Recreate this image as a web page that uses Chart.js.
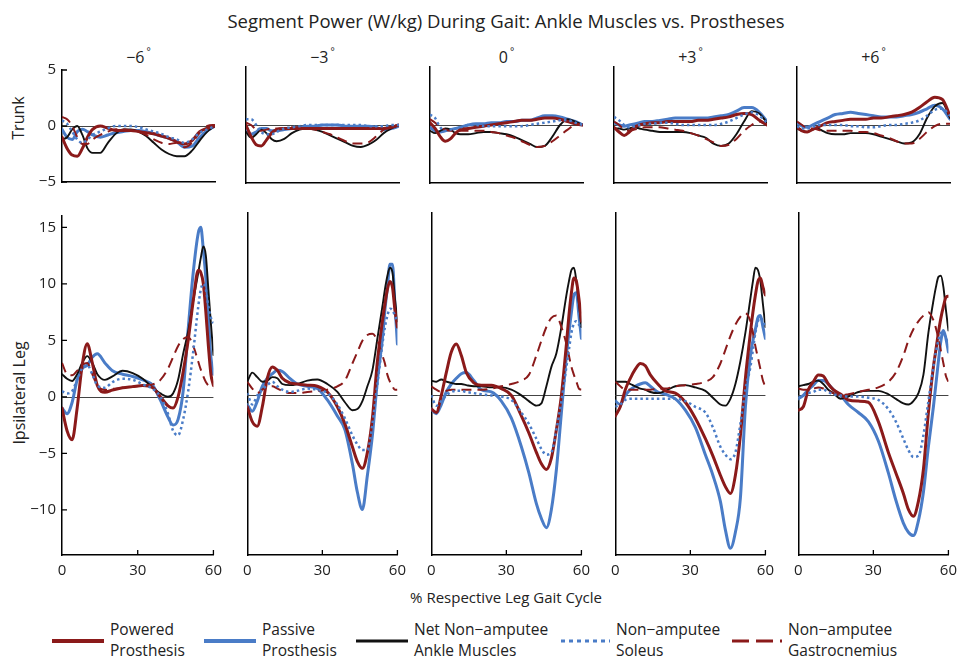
<!DOCTYPE html>
<html lang="en">
<head>
  <meta charset="UTF-8" />
  <title>Segment Power During Gait</title>
  <script src="https://cdn.jsdelivr.net/npm/chart.js"></script>
  <style>
    html, body { margin: 0; padding: 0; background: #fff; }
    body { width: 957px; height: 658px; position: relative; overflow: hidden;
           font-family: "Open Sans", sans-serif; color: #222; }
    .abs { position: absolute; white-space: nowrap; }
    .title { left: 0; width: 1012px; top: 10px; text-align: center; font-size: 18.5px; line-height: 22px; }
    .head { font-size: 16px; line-height: 20px; top: 41px; transform: translateX(-50%); }
    .head sup { font-size: 10px; vertical-align: 8px; margin-left: 2px; }
    .ylab { font-size: 16px; line-height: 20px; transform: translate(-50%, -50%) rotate(-90deg); }
    .xlab { left: 0; width: 1012px; top: 587px; text-align: center; font-size: 15px; line-height: 20px; }
    .leg { font-size: 15.5px; line-height: 21px; top: 619px; }
    canvas { position: absolute; }
  </style>
</head>
<body>
  <div class="abs title">Segment Power (W/kg) During Gait: Ankle Muscles vs. Prostheses</div>
  <div class="abs ylab" style="left:18px; top:118px">Trunk</div>
  <div class="abs ylab" style="left:19px; top:393px">Ipsilateral Leg</div>
  <div class="abs xlab">% Respective Leg Gait Cycle</div>
  <div id="legend"></div>

  <script>
    // column headings (incline, degrees)
    const angles = ['\u22126', '\u22123', '0', '+3', '+6'];

    // % gait cycle sample points
    const trunkPct = [0, 2, 4, 6, 8, 10, 12, 15, 18, 21, 24, 27, 30, 33, 36, 39, 42, 45, 48, 51, 54, 57, 60];
    const legPct = [0, 2, 4, 6, 8, 10, 12, 14, 17, 20, 24, 28, 32, 36, 39, 42, 44, 46, 48, 50, 52, 54, 55, 56, 57, 58, 59, 60];

    const trunkTicks = [-5, 0, 5];
    const legTicks = [-10, -5, 0, 5, 10, 15];
    const xTicks = [0, 30, 60];

    // trunk segment power, one row per incline
    const trunkPowered = [
      [-1.0, -2.0, -2.6, -2.7, -2.0, -1.0, -0.3, 0.0, -0.2, -0.4, -0.4, -0.4, -0.5, -0.6, -0.7, -0.9, -1.1, -1.4, -1.6, -1.3, -0.5, -0.2, 0.0],
      [0.0, -1.0, -1.7, -1.8, -1.3, -0.7, -0.4, -0.3, -0.3, -0.3, -0.3, -0.3, -0.3, -0.3, -0.3, -0.3, -0.3, -0.3, -0.3, -0.3, -0.3, -0.2, 0.0],
      [0.2, -0.3, -1.0, -1.4, -1.2, -0.7, -0.4, -0.3, -0.2, -0.1, 0.0, 0.1, 0.2, 0.3, 0.4, 0.4, 0.5, 0.6, 0.6, 0.5, 0.3, 0.1, 0.0],
      [-0.2, -0.6, -0.9, -0.6, -0.2, 0.0, 0.1, 0.2, 0.2, 0.3, 0.3, 0.3, 0.3, 0.4, 0.4, 0.5, 0.6, 0.7, 0.9, 1.0, 0.9, 0.4, 0.0],
      [-0.2, -0.5, -0.6, -0.4, -0.2, 0.0, 0.2, 0.3, 0.4, 0.5, 0.5, 0.5, 0.6, 0.6, 0.7, 0.8, 0.9, 1.1, 1.5, 2.0, 2.4, 2.2, 0.8]
    ];
    const trunkPassive = [
      [-0.3, -1.0, -1.2, -0.5, -0.3, -0.5, -0.8, -1.0, -0.8, -0.6, -0.5, -0.4, -0.4, -0.5, -0.7, -0.9, -1.1, -1.4, -1.9, -1.8, -1.0, -0.4, 0.0],
      [-0.3, -0.8, -0.6, -0.3, -0.3, -0.5, -0.5, -0.4, -0.3, -0.2, -0.1, -0.1, 0.0, 0.0, 0.0, -0.1, -0.1, -0.1, -0.1, -0.2, -0.4, -0.3, -0.1],
      [-0.2, -0.5, -0.6, -0.5, -0.4, -0.3, -0.2, 0.0, 0.1, 0.1, 0.2, 0.2, 0.3, 0.3, 0.4, 0.4, 0.6, 0.8, 0.8, 0.7, 0.5, 0.3, 0.0],
      [0.2, 0.0, -0.1, 0.0, 0.1, 0.2, 0.3, 0.3, 0.4, 0.5, 0.6, 0.6, 0.6, 0.6, 0.6, 0.7, 0.8, 0.9, 1.2, 1.5, 1.5, 1.1, 0.3],
      [0.2, -0.1, -0.2, 0.0, 0.2, 0.4, 0.6, 0.9, 1.0, 1.1, 1.0, 0.9, 0.8, 0.7, 0.7, 0.7, 0.8, 0.9, 1.1, 1.4, 1.7, 1.4, 0.5]
    ];
    const trunkNet = [
      [-1.2, -1.0, -0.3, 0.0, -0.8, -2.0, -2.4, -2.4, -1.5, -0.7, -0.3, -0.3, -0.5, -0.9, -1.5, -2.1, -2.5, -2.7, -2.7, -2.2, -1.3, -0.5, 0.0],
      [-0.6, -1.1, -0.8, -0.4, -0.7, -1.2, -1.4, -1.2, -0.7, -0.4, -0.3, -0.4, -0.6, -0.9, -1.2, -1.5, -1.8, -1.9, -1.7, -1.3, -0.7, -0.3, 0.0],
      [-0.5, -0.7, -0.5, -0.3, -0.4, -0.7, -0.8, -0.8, -0.7, -0.6, -0.6, -0.7, -0.8, -1.0, -1.3, -1.6, -1.9, -1.8, -1.0, 0.0, 0.5, 0.3, 0.0],
      [-0.3, -0.3, -0.4, -0.3, -0.2, -0.3, -0.4, -0.5, -0.6, -0.6, -0.6, -0.6, -0.7, -0.9, -1.1, -1.6, -1.8, -1.6, -0.8, 0.3, 1.2, 1.0, 0.2],
      [-0.3, -0.5, -0.6, -0.4, -0.3, -0.5, -0.7, -0.8, -0.8, -0.7, -0.7, -0.7, -0.8, -1.0, -1.2, -1.4, -1.6, -1.5, -0.8, 0.6, 1.6, 1.9, 0.6]
    ];
    const trunkSoleus = [
      [0.5, 0.2, -0.5, -1.2, -1.5, -1.2, -0.8, -0.5, -0.2, 0.0, 0.0, 0.0, -0.1, -0.3, -0.5, -0.7, -1.0, -1.2, -1.5, -1.2, -0.6, -0.3, 0.0],
      [0.5, 0.5, 0.0, -0.6, -0.8, -0.8, -0.6, -0.3, -0.2, -0.1, 0.0, 0.0, 0.0, 0.0, 0.0, 0.0, 0.0, 0.0, -0.1, -0.1, -0.1, 0.0, 0.0],
      [0.9, 0.6, -0.2, -0.5, -0.4, -0.3, -0.2, 0.0, 0.0, -0.1, -0.1, -0.1, -0.1, -0.1, -0.1, 0.0, 0.1, 0.2, 0.3, 0.4, 0.4, 0.2, 0.0],
      [0.7, 0.4, 0.0, -0.2, -0.1, 0.0, 0.1, 0.1, 0.2, 0.2, 0.1, 0.0, 0.0, 0.0, 0.0, 0.0, 0.1, 0.3, 0.6, 0.9, 1.1, 0.8, 0.2],
      [-0.1, -0.3, -0.3, -0.2, 0.0, 0.0, 0.0, 0.0, 0.0, -0.1, -0.1, -0.2, -0.2, -0.1, 0.0, 0.0, 0.1, 0.2, 0.4, 0.8, 1.3, 1.4, 0.8]
    ];
    const trunkGastroc = [
      [0.8, 0.6, 0.0, -1.0, -1.6, -1.6, -1.2, -0.8, -0.5, -0.3, -0.3, -0.4, -0.5, -0.8, -1.2, -1.5, -1.6, -1.5, -1.9, -1.5, -0.6, 0.0, 0.1],
      [0.2, 0.0, -0.4, -0.5, -0.4, -0.3, -0.3, -0.3, -0.2, -0.2, -0.3, -0.4, -0.6, -0.8, -1.1, -1.4, -1.6, -1.6, -1.5, -1.0, -0.4, -0.1, 0.0],
      [0.5, 0.2, -0.2, -0.4, -0.5, -0.5, -0.5, -0.5, -0.5, -0.5, -0.6, -0.7, -0.9, -1.1, -1.4, -1.7, -1.9, -1.8, -1.4, -0.9, -0.4, 0.0, 0.0],
      [0.3, 0.0, -0.4, -0.5, -0.4, -0.3, -0.2, -0.2, -0.2, -0.3, -0.4, -0.5, -0.7, -0.9, -1.2, -1.5, -1.8, -1.7, -1.2, -0.5, 0.0, 0.3, 0.0],
      [0.3, 0.0, -0.3, -0.3, -0.4, -0.5, -0.5, -0.5, -0.5, -0.5, -0.6, -0.6, -0.7, -0.9, -1.1, -1.4, -1.6, -1.6, -1.2, -0.6, -0.1, 0.1, 0.1]
    ];

    // ipsilateral leg segment power, one row per incline
    const legPowered = [
      [-1.0, -3.0, -3.8, -1.0, 2.8, 4.7, 3.0, 1.0, 0.4, 0.6, 0.8, 0.9, 1.0, 0.8, 0.0, -0.8, -1.0, 0.0, 2.2, 5.0, 8.5, 11.2, 11.0, 10.0, 7.5, 4.5, 2.0, 1.0],
      [-1.0, -2.3, -2.7, -1.0, 1.5, 2.5, 2.2, 1.5, 1.1, 1.0, 0.9, 0.8, 0.3, -1.0, -2.5, -4.5, -5.8, -6.4, -5.0, -2.0, 3.0, 6.5, 8.0, 9.3, 10.0, 9.5, 7.5, 6.0],
      [-1.2, -1.5, 0.0, 2.0, 3.8, 4.5, 3.5, 2.0, 1.1, 0.9, 0.9, 0.6, 0.0, -1.8, -3.3, -5.0, -6.0, -6.5, -5.5, -3.0, 0.0, 4.5, 7.0, 9.0, 10.3, 10.0, 8.5, 6.5],
      [-1.8, -1.0, 0.5, 1.5, 2.3, 2.8, 2.6, 1.8, 1.0, 0.4, 0.2, -0.6, -2.0, -3.8, -5.3, -7.0, -8.0, -8.6, -7.0, -3.5, 1.5, 5.5, 7.3, 8.8, 10.0, 10.3, 9.5, 8.8],
      [-1.3, -1.0, 0.5, 1.2, 1.8, 1.7, 1.0, 0.5, 0.1, -0.4, -0.5, -0.6, -2.3, -5.0, -6.8, -8.6, -10.0, -10.6, -9.3, -6.5, -1.5, 2.5, 4.0, 5.5, 6.8, 7.8, 8.6, 8.7]
    ];
    const legPassive = [
      [-1.0, -1.5, -0.5, 1.5, 2.5, 2.8, 3.5, 3.8, 3.0, 2.3, 2.0, 1.8, 1.5, 1.0, -0.3, -1.8, -2.5, -2.0, 0.5, 6.0, 11.0, 14.5, 15.0, 13.0, 10.5, 7.0, 3.5, 2.0],
      [-0.8, -1.4, -0.5, 0.8, 1.5, 1.9, 2.2, 2.1, 1.5, 1.0, 0.8, 0.6, -0.4, -1.8, -3.0, -6.0, -8.5, -10.0, -7.0, -3.5, 1.3, 5.0, 7.5, 9.5, 11.5, 11.5, 8.0, 4.5],
      [-1.2, -1.6, -0.8, 0.3, 1.0, 1.5, 1.9, 2.0, 1.3, 0.5, 0.3, -0.5, -2.0, -4.5, -6.8, -9.5, -10.8, -11.6, -10.0, -6.5, -1.5, 3.5, 5.5, 7.3, 8.8, 9.0, 7.0, 5.0],
      [-0.5, -0.8, 0.0, 0.5, 0.8, 1.0, 1.1, 0.8, 0.3, 0.1, -0.3, -1.3, -2.8, -5.2, -7.0, -9.3, -11.8, -13.4, -12.0, -9.0, -1.0, 3.5, 4.8, 5.8, 6.8, 7.0, 6.0, 5.0],
      [-0.3, 0.0, 0.5, 0.9, 1.3, 1.3, 1.0, 0.5, 0.0, -0.8, -1.5, -2.3, -4.0, -6.8, -9.2, -11.2, -12.0, -12.3, -11.0, -8.5, -4.5, -1.0, 1.0, 3.0, 4.8, 5.7, 5.0, 3.8]
    ];
    const legNet = [
      [2.0, 1.6, 1.4, 2.0, 3.0, 3.6, 3.0, 2.0, 1.5, 1.8, 2.3, 2.1, 1.6, 0.8, 0.3, 0.0, 0.3, 1.5, 3.8, 5.8, 8.5, 11.0, 12.3, 13.3, 12.5, 9.5, 6.5, 3.7],
      [1.2, 2.0, 1.6, 1.2, 1.3, 1.6, 1.5, 1.0, 0.9, 1.0, 1.3, 1.4, 1.0, 0.3, -0.6, -1.3, -1.2, -0.5, 0.8, 2.2, 5.0, 7.8, 9.3, 10.5, 11.2, 10.8, 8.5, 6.5],
      [1.3, 1.2, 1.4, 1.2, 1.1, 1.0, 1.0, 0.9, 0.8, 0.8, 0.7, 0.7, 0.5, 0.0, -0.5, -0.9, -0.7, 0.8, 2.5, 3.7, 6.0, 8.8, 10.0, 11.0, 11.2, 10.0, 8.0, 6.0],
      [1.2, 1.2, 1.2, 1.0, 0.8, 0.6, 0.5, 0.3, 0.2, 0.4, 0.8, 0.9, 0.7, 0.4, -0.2, -0.8, -0.9, -0.3, 1.0, 3.0, 5.5, 8.5, 10.0, 11.2, 11.0, 10.0, 8.0, 6.0],
      [0.8, 0.9, 1.0, 1.2, 1.3, 1.0, 0.5, 0.2, -0.3, -0.1, 0.3, 0.4, 0.4, 0.1, -0.3, -0.7, -0.8, -0.5, 0.2, 1.8, 5.5, 8.3, 9.5, 10.4, 10.5, 9.5, 7.5, 5.7]
    ];
    const legSoleus = [
      [0.5, 0.3, 0.5, 1.5, 2.5, 2.8, 2.0, 1.0, 0.8, 1.3, 1.6, 1.5, 1.1, 0.7, 0.0, -1.5, -3.0, -3.4, -2.0, 0.5, 4.0, 8.0, 9.5, 10.0, 9.5, 8.0, 7.0, 6.5],
      [0.2, -0.8, 0.0, 0.5, 0.9, 1.2, 0.8, 0.5, 0.3, 0.4, 0.6, 0.5, 0.2, -0.8, -2.0, -3.5, -4.3, -4.8, -4.8, -2.5, 1.0, 4.5, 6.0, 7.0, 7.6, 7.5, 7.0, 6.5],
      [0.0, -0.9, -0.5, 0.0, 0.3, 0.4, 0.4, 0.3, 0.2, 0.1, 0.0, -0.1, -0.4, -1.5, -2.5, -3.8, -4.7, -5.2, -5.0, -3.0, -0.5, 2.5, 4.0, 5.5, 6.3, 6.5, 6.2, 6.0],
      [-1.0, -0.8, -0.4, -0.3, -0.3, -0.3, -0.3, -0.3, -0.3, -0.3, -0.3, -0.5, -1.0, -1.5, -2.8, -4.5, -5.2, -5.6, -5.0, -2.5, 0.5, 2.5, 4.0, 5.5, 6.5, 6.8, 6.5, 6.0],
      [-0.2, 0.0, 0.2, 0.3, 0.5, 0.5, 0.3, 0.1, 0.0, -0.1, -0.1, -0.2, -0.4, -1.2, -2.3, -3.8, -4.8, -5.4, -5.3, -3.5, -0.5, 2.5, 3.8, 4.8, 5.5, 5.5, 5.0, 4.5]
    ];
    const legGastroc = [
      [3.0, 2.0, 1.9, 2.3, 2.8, 3.0, 2.0, 1.0, 0.6, 0.7, 0.8, 0.9, 1.0, 1.1, 1.5, 2.5, 3.5, 4.5, 5.1, 5.3, 4.5, 3.1, 2.4, 1.8, 1.3, 1.0, 0.9, 0.8],
      [1.2, 0.6, 0.2, 0.5, 0.8, 0.8, 0.6, 0.4, 0.2, 0.2, 0.3, 0.4, 0.5, 0.8, 1.3, 2.8, 3.8, 4.8, 5.3, 5.4, 4.8, 3.5, 2.8, 1.8, 1.2, 0.8, 0.5, 0.5],
      [0.8, 0.5, 0.3, 0.4, 0.5, 0.5, 0.5, 0.5, 0.5, 0.5, 0.6, 0.8, 1.0, 1.3, 1.8, 3.5, 4.8, 6.0, 6.8, 7.0, 6.0, 4.5, 3.5, 2.5, 1.8, 1.2, 0.6, 0.5],
      [1.2, 0.8, 0.5, 0.5, 0.5, 0.5, 0.5, 0.5, 0.6, 0.6, 0.8, 0.9, 1.0, 1.2, 1.6, 2.8, 4.0, 5.2, 6.2, 6.9, 7.2, 6.5, 5.5, 4.3, 3.3, 2.3, 1.3, 0.8],
      [0.6, 0.5, 0.5, 0.6, 0.7, 0.6, 0.4, 0.2, 0.0, 0.1, 0.3, 0.5, 0.7, 1.2, 2.0, 3.5, 4.8, 5.8, 6.5, 7.0, 7.3, 6.6, 5.9, 5.0, 3.9, 2.8, 1.7, 1.2]
    ];

    const seriesNames = ['Powered|Prosthesis', 'Passive|Prosthesis', 'Net Non\u2212amputee|Ankle Muscles', 'Non\u2212amputee|Soleus', 'Non\u2212amputee|Gastrocnemius'];

    // line looks, same order as seriesNames
    const RED = '#8b1a1a', BLUE = '#4a7cc7';
    const looks = [
      { color: RED, width: 3, dash: [] },
      { color: BLUE, width: 3, dash: [] },
      { color: '#111', width: 1.9, dash: [] },
      { color: BLUE, width: 2.5, dash: [2.5, 3] },
      { color: RED, width: 2, dash: [10, 6] }
    ];
    // draw order: net on top, passive at the bottom
    const drawOrder = [3, 4, 0, 2, 1];

    const colLeft = [62, 246, 430, 614, 797];
    const plotW = 153;
    const rows = [
      { top: 67, h: 116, min: -5, max: 5, yt: trunkTicks, pct: trunkPct,
        sets: [trunkPowered, trunkPassive, trunkNet, trunkSoleus, trunkGastroc] },
      { top: 213, h: 342, min: -14, max: 16, yt: legTicks, pct: legPct,
        sets: [legPowered, legPassive, legNet, legSoleus, legGastroc] }
    ];

    Chart.defaults.font.family = '"Open Sans", sans-serif';
    Chart.defaults.color = '#222';

    const fmt = v => v < 0 ? '\u2212' + Math.abs(v) : String(v);

    // zero line underneath, inward tick marks on top
    const axisMarks = {
      id: 'axisMarks',
      beforeDatasetsDraw(chart) {
        const { ctx, chartArea: r, scales: { y } } = chart;
        const y0 = Math.round(y.getPixelForValue(0)) + 0.5;
        ctx.save();
        ctx.strokeStyle = '#444';
        ctx.lineWidth = 1;
        ctx.beginPath();
        ctx.moveTo(r.left, y0);
        ctx.lineTo(r.right, y0);
        ctx.stroke();
        ctx.restore();
      },
      afterDraw(chart, args, opts) {
        const { ctx, chartArea: r, scales: { x, y } } = chart;
        ctx.save();
        ctx.strokeStyle = '#000';
        ctx.lineWidth = 1.3;
        ctx.beginPath();
        (opts.xt || []).forEach(v => {
          const px = x.getPixelForValue(v);
          ctx.moveTo(px, r.bottom);
          ctx.lineTo(px, r.bottom - 5);
        });
        (opts.yt || []).forEach(v => {
          const py = y.getPixelForValue(v);
          ctx.moveTo(r.left, py);
          ctx.lineTo(r.left + 5, py);
        });
        ctx.stroke();
        ctx.restore();
      }
    };

    // column headings
    angles.forEach((a, c) => {
      const d = document.createElement('div');
      d.className = 'abs head';
      d.style.left = (colLeft[c] + plotW / 2) + 'px';
      d.innerHTML = a + '<sup>\u00b0</sup>';
      document.body.appendChild(d);
    });

    rows.forEach((row, r) => {
      colLeft.forEach((left, c) => {
        const padL = c === 0 ? 40 : 10, padR = 14, padT = 12, padB = r === 1 ? 30 : 14;
        const cv = document.createElement('canvas');
        cv.width = plotW + padL + padR;
        cv.height = row.h + padT + padB;
        cv.style.left = (left - padL) + 'px';
        cv.style.top = (row.top - padT) + 'px';
        document.body.appendChild(cv);

        const datasets = drawOrder.map(k => ({
          label: seriesNames[k],
          data: row.pct.map((x, i) => ({ x, y: row.sets[k][c][i] })),
          borderColor: looks[k].color,
          borderWidth: looks[k].width,
          borderDash: looks[k].dash,
          borderCapStyle: looks[k].dash.length ? 'butt' : 'round',
          pointRadius: 0,
          cubicInterpolationMode: 'monotone',
          fill: false
        }));

        new Chart(cv, {
          type: 'line',
          data: { datasets },
          options: {
            responsive: false,
            animation: false,
            devicePixelRatio: 1,
            events: [],
            layout: { padding: { left: 0, right: padR, top: padT, bottom: 0 } },
            plugins: {
              legend: { display: false },
              tooltip: { enabled: false },
              axisMarks: {
                xt: r === 1 ? [30, 60] : [],
                yt: c === 0 ? row.yt : []
              }
            },
            scales: {
              x: {
                type: 'linear', min: 0, max: 60,
                afterBuildTicks: s => { s.ticks = xTicks.map(v => ({ value: v })); },
                afterFit: s => { s.height = padB; },
                grid: { display: false, drawTicks: false },
                border: { display: true, color: '#000', width: 1.5 },
                ticks: { display: r === 1, autoSkip: false, maxRotation: 0, padding: 7,
                         font: { size: 15 }, color: '#222' }
              },
              y: {
                min: row.min, max: row.max,
                afterBuildTicks: s => { s.ticks = row.yt.map(v => ({ value: v })); },
                afterFit: s => { s.width = padL; },
                grid: { display: false, drawTicks: false },
                border: { display: true, color: '#000', width: 1.5 },
                ticks: { display: c === 0, autoSkip: false, padding: 6, callback: fmt,
                         font: { size: 15 }, color: '#222' }
              }
            }
          },
          plugins: [axisMarks]
        });
      });
    });

    // legend below the x title
    const legX = [52, 204, 356, 561, 732];
    const legLabelX = [110, 262, 414, 616, 788];
    const legendBox = document.getElementById('legend');
    seriesNames.forEach((name, k) => {
      const lk = looks[k];
      const sw = legLabelX[k] - legX[k] - 6;
      const svg = document.createElementNS('http://www.w3.org/2000/svg', 'svg');
      svg.setAttribute('width', sw);
      svg.setAttribute('height', 10);
      svg.style.position = 'absolute';
      svg.style.left = legX[k] + 'px';
      svg.style.top = '636px';
      const ln = document.createElementNS('http://www.w3.org/2000/svg', 'line');
      ln.setAttribute('x1', 0); ln.setAttribute('x2', sw);
      ln.setAttribute('y1', 5); ln.setAttribute('y2', 5);
      ln.setAttribute('stroke', lk.color);
      ln.setAttribute('stroke-width', k < 2 ? 4 : 3);
      if (k === 3) ln.setAttribute('stroke-dasharray', '4 4');
      if (k === 4) ln.setAttribute('stroke-dasharray', '17 7');
      svg.appendChild(ln);
      legendBox.appendChild(svg);

      const t = document.createElement('div');
      t.className = 'abs leg';
      t.style.left = legLabelX[k] + 'px';
      t.innerHTML = name.split('|').join('<br>');
      legendBox.appendChild(t);
    });
  </script>
</body>
</html>
